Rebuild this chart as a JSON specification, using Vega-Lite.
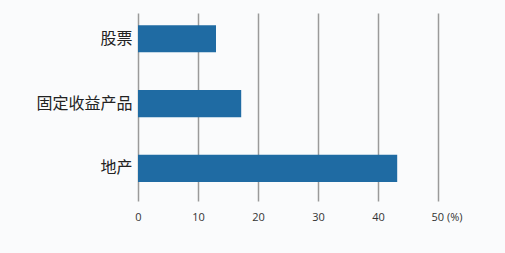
{
  "$schema": "https://vega.github.io/schema/vega-lite/v6.json",
  "autosize": "none",
  "padding": {"left": 138, "top": 13, "right": 67, "bottom": 52},
  "width": 300,
  "height": 188,
  "background": "#fafbfc",
  "data": {"values": [
    {"category": "股票", "value": 13.0},
    {"category": "固定收益产品", "value": 17.2},
    {"category": "地产", "value": 43.2}
  ]},
  "mark": {"type": "bar", "color": "#1f6ba3"},
  "encoding": {
    "y": {
      "field": "category", "type": "nominal", "sort": null,
      "scale": {"paddingInner": 0.58, "paddingOuter": 0.24, "align": 0.39},
      "axis": {"title": null, "domain": false, "ticks": false, "labelFont": "Noto Sans CJK SC", "labelFontSize": 16, "labelColor": "#222222", "labelPadding": 6}
    },
    "x": {
      "field": "value", "type": "quantitative",
      "scale": {"domain": [0, 50], "nice": false},
      "axis": {
        "title": null, "domain": false, "ticks": false, "values": [0, 10, 20, 30, 40, 50],
        "grid": true, "gridColor": "#9a9a9a", "gridWidth": 1.5,
        "labelExpr": "datum.value == 50 ? '50 (%)' : datum.label",
        "labelAlign": {"condition": {"test": "datum.value == 50", "value": "left"}, "value": "center"},
        "labelOffset": {"condition": {"test": "datum.value == 50", "value": -7}, "value": 0},
        "labelFont": "Open Sans", "labelFontSize": 11, "labelColor": "#333333", "labelPadding": 10,
        "labelFlush": false
      }
    }
  },
  "config": {"view": {"stroke": null}}
}
